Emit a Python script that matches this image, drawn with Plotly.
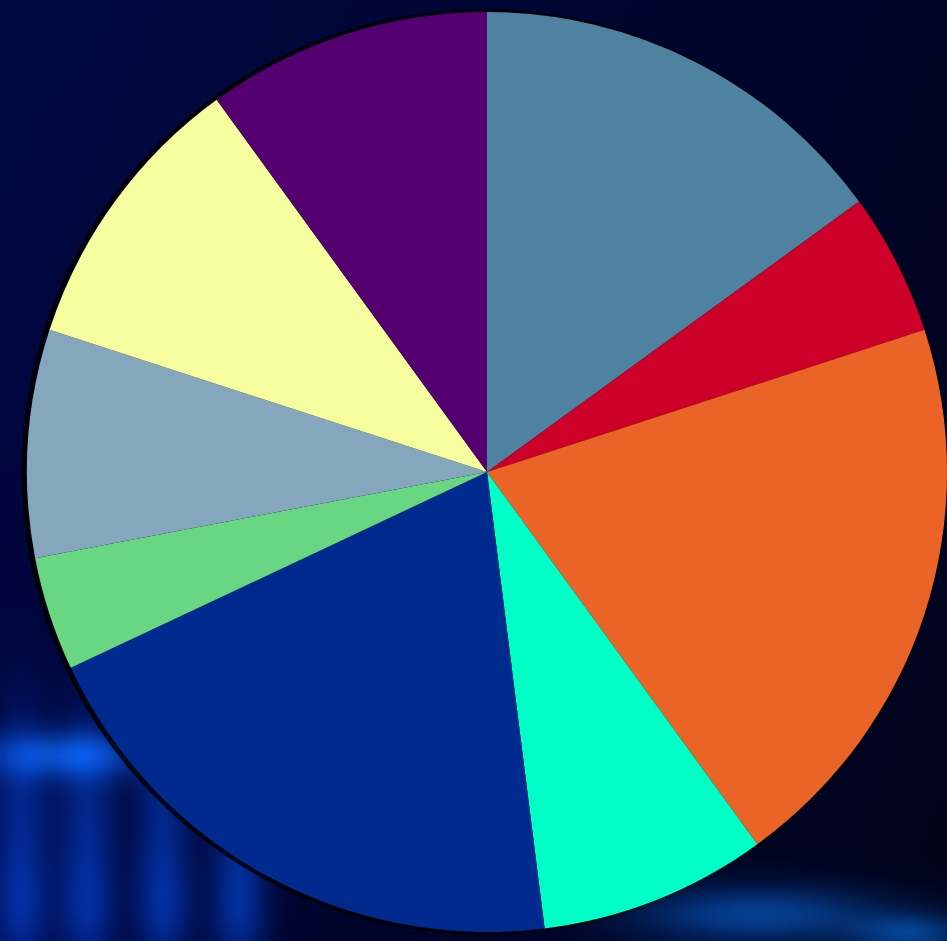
import base64, struct, zlib
import numpy as np
import plotly.graph_objects as go

# ---- data ----
labels = ["A", "B", "C", "D", "E", "F", "G", "H", "I"]
values = [15, 5, 20, 8, 20, 4, 8, 10, 10]
colors = ["#4f82a1", "#cc0029", "#ea6428", "#00ffc6", "#002a8e",
          "#68d683", "#85a7bd", "#f6fd9f", "#540071"]

W, H = 947, 941

# ---- decorative background (dark navy with blue glow at bottom) ----
def make_bg(w=237, h=235):
    yy, xx = np.mgrid[0:h, 0:w].astype(float)
    xn, yn = xx / w, yy / h
    r = 0 + 0 * xn
    g = 4 + 6 * (1 - xn) * (1 - yn)
    b = 38 + 30 * (1 - xn) - 12 * yn
    img = np.stack([r, g, b], axis=-1)
    def blob(cx, cy, sx, sy, col, amp):
        gg = amp * np.exp(-(((xn - cx) / sx) ** 2 + ((yn - cy) / sy) ** 2))
        return gg[..., None] * np.array(col)[None, None, :]
    # bottom-left streaks
    for cx in [0.02, 0.09, 0.17, 0.25]:
        img += blob(cx, 0.87, 0.03, 0.12, (5, 60, 150), 0.55)
        img += blob(cx, 0.97, 0.03, 0.06, (5, 55, 140), 0.45)
    img += blob(0.07, 0.80, 0.09, 0.025, (15, 110, 210), 0.6)
    # bottom-right glow
    img += blob(0.80, 0.97, 0.13, 0.03, (10, 100, 190), 0.6)
    img += blob(0.96, 0.99, 0.06, 0.02, (10, 100, 190), 0.55)
    img = np.clip(img, 0, 255).astype(np.uint8)
    raw = b"".join(b"\x00" + img[i].tobytes() for i in range(h))
    def chunk(t, d):
        c = struct.pack(">I", len(d)) + t + d
        return c + struct.pack(">I", zlib.crc32(t + d) & 0xffffffff)
    png = (b"\x89PNG\r\n\x1a\n" + chunk(b"IHDR", struct.pack(">IIBBBBB", w, h, 8, 2, 0, 0, 0))
           + chunk(b"IDAT", zlib.compress(raw, 9)) + chunk(b"IEND", b""))
    return "data:image/png;base64," + base64.b64encode(png).decode()

cx0 = 487 / W
dom_x = [2 * cx0 - 1, 1.0]
dom_y = [0.0, 0.9968]

fig = go.Figure()
# soft shadow ring behind the pie
fig.add_trace(go.Pie(
    values=[1], marker=dict(colors=["#000000"], line=dict(width=0)),
    domain=dict(x=[dom_x[0] - 0.006, 1.0], y=dom_y),
    textinfo="none", hoverinfo="skip", showlegend=False, opacity=0.8, sort=False,
))
fig.add_trace(go.Pie(
    labels=labels, values=values, sort=False, direction="clockwise", rotation=0,
    marker=dict(colors=colors, line=dict(width=0)),
    domain=dict(x=dom_x, y=dom_y),
    textinfo="none", showlegend=False,
))
fig.update_layout(
    width=W, height=H, margin=dict(l=0, r=0, t=0, b=0),
    paper_bgcolor="#000035", plot_bgcolor="#000035", showlegend=False,
    images=[dict(source=make_bg(), xref="paper", yref="paper", x=0, y=1,
                 sizex=1, sizey=1, sizing="stretch", layer="below",
                 xanchor="left", yanchor="top")],
)
fig.write_html("out.html")
